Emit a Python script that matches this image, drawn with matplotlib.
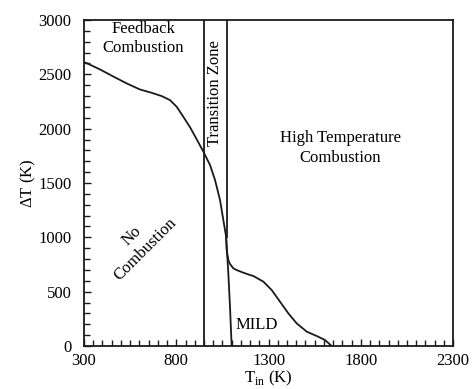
# plot.py
# Temperature rise vs inlet temperature, with combustion regime labels.

import matplotlib
matplotlib.use('Agg')
import matplotlib.pyplot as plt
from matplotlib.ticker import MultipleLocator

plt.rcParams['font.family'] = ['Liberation Serif', 'DejaVu Serif']
plt.rcParams['mathtext.fontset'] = 'custom'
plt.rcParams['mathtext.rm'] = 'Liberation Serif'
plt.rcParams['font.size'] = 12

# Upper branch (feedback / no combustion)
t_upper = [300, 311, 387, 459, 531, 603, 667, 721, 766, 802, 838, 875, 911,
           947, 983, 1010, 1037, 1055, 1070, 1082, 1091, 1100]
dt_upper = [2610, 2606, 2545, 2480, 2417, 2361, 2330, 2300, 2263, 2202, 2110,
            2012, 1901, 1788, 1665, 1527, 1343, 1159, 1005, 669, 362, 0]

# Lower branch (MILD / high temperature combustion)
t_lower = [1070, 1073, 1082, 1091, 1109, 1127, 1163, 1200, 1218, 1272, 1317,
           1362, 1407, 1452, 1507, 1561, 1606, 1642]
dt_lower = [1005, 883, 791, 755, 715, 699, 675, 653, 644, 592, 515,
            408, 301, 209, 132, 92, 55, 0]

# Transition zone bounds
t_zone = [950, 1073]
zone_bottom = [0, 1005]

x_ticks = [300, 800, 1300, 1800, 2300]

fig = plt.figure(figsize=(4.72, 3.89), dpi=100)
ax = fig.add_axes([0.178, 0.1105, 0.782, 0.838])

ax.plot(t_upper, dt_upper, color='#1a1a1a', lw=1.3)
ax.plot(t_lower, dt_lower, color='#1a1a1a', lw=1.3)
for xz, yb in zip(t_zone, zone_bottom):
    ax.plot([xz, xz], [yb, 3000], color='#1a1a1a', lw=1.3)

ax.set_xlim(300, 2300)
ax.set_ylim(0, 3000)
ax.set_xticks(x_ticks)
ax.xaxis.set_minor_locator(MultipleLocator(50))
ax.yaxis.set_major_locator(MultipleLocator(500))
ax.yaxis.set_minor_locator(MultipleLocator(100))
ax.tick_params(which='both', direction='in', color='#1a1a1a', width=1.0)
ax.tick_params(which='major', length=5, labelsize=12)
ax.tick_params(which='minor', length=4)
ax.tick_params(axis='y', which='major', pad=9)
ax.tick_params(axis='x', which='major', pad=5)
for s in ax.spines.values():
    s.set_linewidth(1.3)
    s.set_color('#1a1a1a')

ax.set_xlabel(r'T$_{\mathrm{in}}$ (K)', labelpad=0)
ax.set_ylabel(r'$\Delta$T (K)', labelpad=0)

# Regime labels
ax.text(620, 2830, 'Feedback\nCombustion', ha='center', va='center', linespacing=1.3)
ax.text(1012, 2330, 'Transition Zone', rotation=90, ha='center', va='center')
ax.text(1690, 1820, 'High Temperature\nCombustion', ha='center', va='center', linespacing=1.3)
ax.text(595, 950, 'No\nCombustion', rotation=45, ha='center', va='center', linespacing=1.2)
ax.text(1235, 190, 'MILD', ha='center', va='center')

fig.savefig('out.png', dpi=100)
